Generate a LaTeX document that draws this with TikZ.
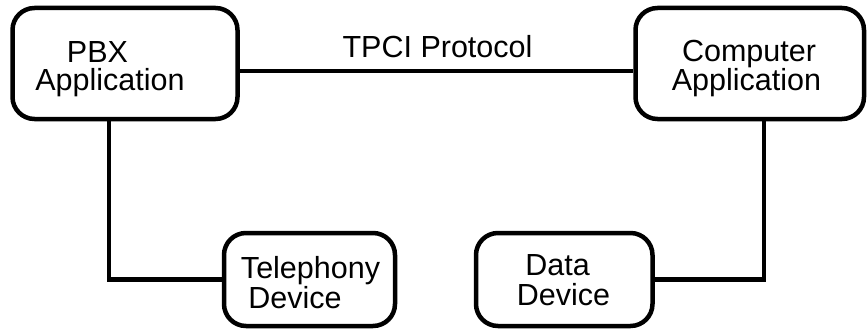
\documentclass[tikz,border=0pt]{standalone}
\usepackage{fontspec}
\setmainfont{Liberation Sans}
\begin{document}
\begin{tikzpicture}[x=1pt,y=-1pt,
  box/.style={draw=black,line width=4.5pt,rectangle,rounded corners=22pt,inner sep=0pt},
  lbl/.style={anchor=base,inner sep=0pt,font=\fontsize{30.5}{30}\selectfont},
  wire/.style={draw=black,line width=4.5pt}]
\useasboundingbox (0,0) rectangle (867,329);
\node[box,minimum width=225pt,minimum height=111pt] (pbx) at (125,63.5) {};
\node[box,minimum width=228.5pt,minimum height=111pt] (comp) at (749.75,63.5) {};
\node[box,minimum width=171pt,minimum height=93pt] (tel) at (309.5,279.5) {};
\node[box,minimum width=176.5pt,minimum height=93pt] (data) at (564.25,279.5) {};
\node[lbl] (pbx1) at (97.5,63) {PBX};
\node[lbl] (pbx2) at (110,90) {Application};
\node[lbl] (comp1) at (749,62) {Computer};
\node[lbl] (comp2) at (746.5,90) {Application};
\node[lbl] (tel1) at (310.5,278) {Telephony};
\node[lbl] (tel2) at (295,308) {Device};
\node[lbl] (data1) at (557.5,275) {Data};
\node[lbl] (data2) at (563.5,305) {Device};
\node[lbl] (proto) at (437.5,57) {TPCI Protocol};
\draw[wire] ([yshift=-7.5pt]pbx.east) -- ([yshift=-7.5pt]comp.west);
\draw[wire] ([xshift=-16pt]pbx.south) |- (tel.west);
\draw[wire] ([xshift=14.25pt]comp.south) |- (data.east);
\end{tikzpicture}
\end{document}
